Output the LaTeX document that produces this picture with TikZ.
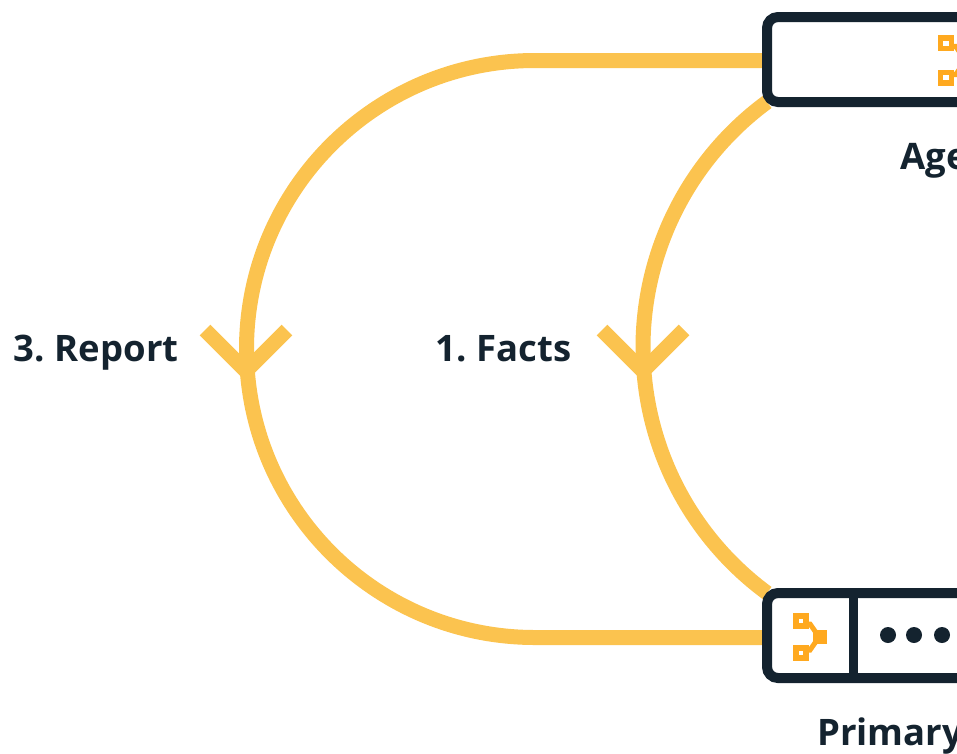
\documentclass[tikz,border=0pt]{standalone}
\usepackage{fontspec}
\setmainfont{Open Sans}[WordSpace=0.75]
\usetikzlibrary{backgrounds}
\definecolor{flowyellow}{HTML}{FBC34F}
\definecolor{iconorange}{HTML}{FFA91F}
\definecolor{boxnavy}{HTML}{14232F}
\tikzset{
  flow/.style={draw=flowyellow, line width=15pt},
  hostbox/.style={draw=boxnavy, fill=white, line width=10pt, rounded corners=11pt, inner sep=0pt, outer sep=0pt, minimum width=400pt, minimum height=85pt},
  steplabel/.style={text=boxnavy, font=\fontsize{36.5}{42}\selectfont\bfseries, inner sep=0pt, anchor=base west},
  sharenode/.pic={
    \draw [iconorange, line width=5.5pt] (-5,11) rectangle (5,21);
    \draw [iconorange, line width=5.5pt] (-5,-21) rectangle (5,-11);
    \fill [iconorange] (12,-7) rectangle (26,7);
    \draw [iconorange, line width=5pt] (6,13) -- (9,13) -- (16,3);
    \draw [iconorange, line width=5pt] (6,-13) -- (9,-13) -- (16,-3);
  }
}
\begin{document}
\begin{tikzpicture}[x=1pt, y=1pt]
  \useasboundingbox (0,-753) rectangle (957,0);
  \clip (0,-753) rectangle (957,0);
  \node [hostbox] (agentbox) at (967,-59.5) {};
  \node [hostbox] (primarybox) at (967,-635.5) {};
  \begin{scope}[on background layer]
    \coordinate (reporttop) at (535,-60.5);
    \coordinate (reportend) at (535,-637.5);
    \coordinate (reporttip) at (246,-371);
    \coordinate (factstip) at (643,-371);
    \draw [flow] (reporttop -| agentbox.west) -- (reporttop) arc [start angle=90, end angle=270, radius=288.5] -- (reportend -| primarybox.west);
    \draw [flow] (agentbox.south west) arc [start angle=126.4, end angle=233.6, radius=305];
    \draw [flow] (reporttip) -- +(-41,41);
    \draw [flow] (reporttip) -- +(41,41);
    \draw [flow] (factstip) -- +(-41,41);
    \draw [flow] (factstip) -- +(41,41);
  \end{scope}
  \draw [boxnavy, line width=9pt] (853,-593) -- (853,-678);
  \fill [boxnavy] (888,-635) circle (8);
  \fill [boxnavy] (914,-635) circle (8);
  \fill [boxnavy] (942,-635) circle (8);
  \pic at (801,-637) {sharenode};
  \pic [scale=1.08] at (946,-60.5) {sharenode};
  \node [steplabel] (reportlabel) at (13,-361) {3. Report};
  \node [steplabel] (factslabel) at (435,-361) {1. Facts};
  \node [steplabel] (agentlabel) at (900,-169) {Age};
  \node [steplabel] (primarylabel) at (817,-745) {Primary};
\end{tikzpicture}
\end{document}
